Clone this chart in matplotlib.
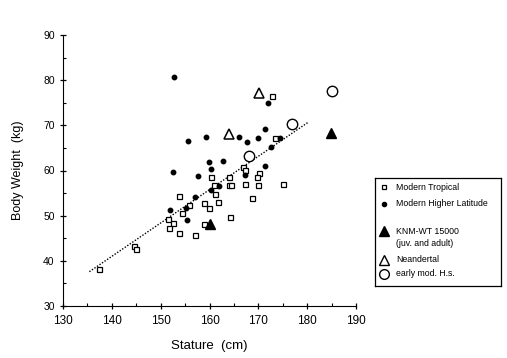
import numpy as np
import matplotlib
matplotlib.use("Agg")
import matplotlib.pyplot as plt
from matplotlib.ticker import MultipleLocator

plt.rcParams['font.family'] = ['Liberation Sans', 'DejaVu Sans']

# Modern Tropical (open squares)
trop_x = [172.8, 173.5, 166.9, 167.2, 170.2, 169.8, 160.4, 164.0, 161.0, 163.9, 164.4,
          167.3, 169.9, 175.0, 161.2, 153.8, 168.8, 161.8, 155.9, 158.9, 159.9, 154.4,
          151.6, 152.6, 151.7, 158.9, 164.2, 153.8, 157.1, 144.5, 145.0, 137.3]
trop_y = [76.4, 67.1, 60.7, 60.1, 59.4, 58.6, 58.6, 58.5, 56.7, 56.9, 56.9,
          57.1, 56.9, 57.1, 54.9, 54.4, 54.0, 53.1, 52.3, 52.7, 51.6, 50.6,
          49.2, 48.4, 47.3, 48.1, 49.6, 46.1, 45.7, 43.3, 42.7, 38.1]

# Modern Higher Latitude (filled circles)
high_x = [152.7, 171.9, 171.3, 155.6, 159.3, 166.1, 167.7, 169.9, 174.4, 172.5, 159.8,
          162.7, 160.3, 152.6, 157.7, 167.2, 171.3, 161.9, 160.4, 157.1, 155.2, 151.9, 155.3]
high_y = [80.6, 75.0, 69.1, 66.5, 67.5, 67.4, 66.2, 67.2, 67.3, 65.1, 61.8,
          62.0, 60.3, 59.7, 58.8, 59.1, 61.1, 56.5, 55.7, 54.1, 51.8, 51.2, 49.0]

# KNM-WT 15000 (juv. and adult)
knm_x = [160.2, 184.9]
knm_y = [48.1, 68.2]

# Neandertal
nean_x = [170.1, 164.0]
nean_y = [77.2, 68.0]

# early mod. H.s.
ems_x = [185.1, 176.9, 168.1]
ems_y = [77.6, 70.2, 63.3]

# regression line end points
fit_x = [135.4, 180.1]
fit_y = [37.6, 70.6]

fig = plt.figure(figsize=(5.07, 3.58), dpi=100)
ax = fig.add_axes([63/507, 52/358, 293/507, 271/358])

ax.plot(fit_x, fit_y, color='black', linestyle=(0, (1, 1.2)), linewidth=1.0)
ax.plot(trop_x, trop_y, 's', mfc='white', mec='black', ms=3.6, mew=0.9, linestyle='none')
ax.plot(high_x, high_y, 'o', color='black', ms=3.2, linestyle='none')
ax.plot(knm_x, knm_y, '^', color='black', ms=7.5, linestyle='none')
ax.plot(nean_x, nean_y, '^', mfc='white', mec='black', ms=7.5, mew=1.1, linestyle='none')
ax.plot(ems_x, ems_y, 'o', mfc='white', mec='black', ms=7.5, mew=1.0, linestyle='none')

ax.set_xlim(130, 190)
ax.set_ylim(30, 90)
ax.xaxis.set_major_locator(MultipleLocator(10))
ax.xaxis.set_minor_locator(MultipleLocator(5))
ax.yaxis.set_major_locator(MultipleLocator(10))
ax.yaxis.set_minor_locator(MultipleLocator(5))
ax.spines['top'].set_visible(False)
ax.spines['right'].set_visible(False)
ax.tick_params(which='major', direction='inout', length=5, width=0.9)
ax.tick_params(axis='x', labelsize=8.5, pad=4)
ax.tick_params(axis='y', labelsize=7.5)
ax.tick_params(which='minor', direction='in', length=2.5, width=0.8)
ax.set_xlabel("Stature  (cm)", fontsize=9.5, labelpad=9)
ax.set_ylabel("Body Weight  (kg)", fontsize=9, labelpad=14)

# legend box drawn by hand
lax = fig.add_axes([375/507, 72/358, 126/507, 108/358])
lax.set_xlim(0, 126)
lax.set_ylim(108, 0)
lax.set_xticks([])
lax.set_yticks([])
for s in lax.spines.values():
    s.set_linewidth(0.9)
mx, tx = 9, 21
fs = 6.3
lax.plot(mx, 9, 's', mfc='white', mec='black', ms=3.2, mew=0.9)
lax.text(tx, 9, "Modern Tropical", fontsize=fs, va='center')
lax.plot(mx, 26, 'o', color='black', ms=3.0)
lax.text(tx, 26, "Modern Higher Latitude", fontsize=fs, va='center')
lax.plot(mx, 53, '^', color='black', ms=7)
lax.text(tx, 53, "KNM-WT 15000", fontsize=fs, va='center')
lax.text(tx, 66, "(juv. and adult)", fontsize=fs, va='center')
lax.plot(mx, 82, '^', mfc='white', mec='black', ms=7, mew=1.0)
lax.text(tx, 82, "Neandertal", fontsize=fs, va='center')
lax.plot(mx, 96, 'o', mfc='white', mec='black', ms=7, mew=1.0)
lax.text(tx, 96, "early mod. H.s.", fontsize=fs, va='center')

fig.savefig("out.png", dpi=100)
